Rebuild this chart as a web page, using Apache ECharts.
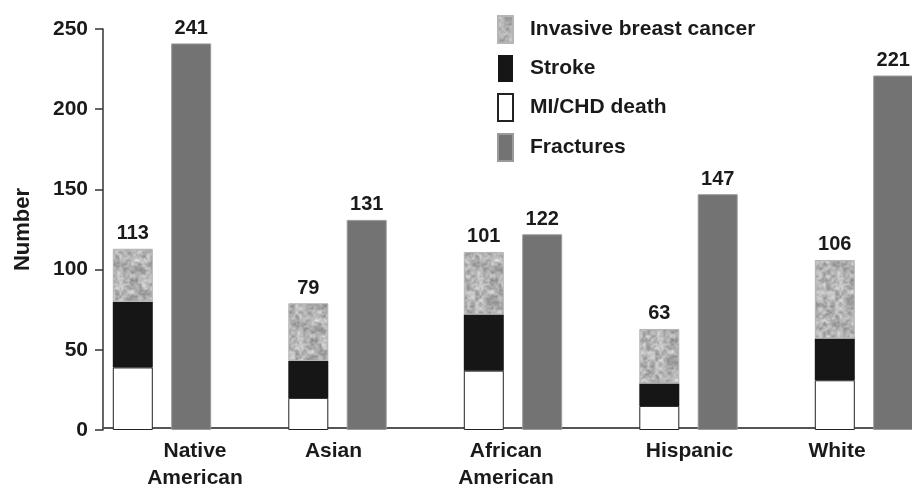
<!DOCTYPE html>
<html>
<head>
<meta charset="utf-8">
<script src="https://cdn.jsdelivr.net/npm/echarts@6/dist/echarts.min.js"></script>
<style>html,body{margin:0;padding:0;background:#fff}#c{width:912px;height:486px}</style>
</head>
<body>
<div id="c"></div>
<script>
// ---- data ----
var categories = ['Native\nAmerican', 'Asian', 'African\nAmerican', 'Hispanic', 'White'];
var miChd = [39, 20, 37, 15, 31];
var stroke = [41, 23, 35, 14, 26];
var breast = [33, 36, 39, 34, 49];
var totals = [113, 79, 101, 63, 106];
var fractures = [241, 131, 122, 147, 221];
var yTicks = [0, 50, 100, 150, 200, 250];

// ---- styling helpers ----
var FONT = '"Liberation Sans", Arial, Helvetica, sans-serif';
var TXT = '#1a1a1a';
var labelShift = [33, -4, -7, 1, -27];

function makeTexture() {
  var S = 60, c = document.createElement('canvas');
  c.width = c.height = S;
  var ctx = c.getContext('2d');
  var img = ctx.createImageData(S, S);
  function h(x, y) { var n = Math.sin(x * 127.1 + y * 311.7) * 43758.5453; return n - Math.floor(n); }
  function vn(x, y, cell) {
    var per = S / cell, gx = x / cell, gy = y / cell;
    var ix = Math.floor(gx), iy = Math.floor(gy), fx = gx - ix, fy = gy - iy;
    fx = fx * fx * (3 - 2 * fx); fy = fy * fy * (3 - 2 * fy);
    var a = h(ix % per, iy % per), b = h((ix + 1) % per, iy % per),
        cc = h(ix % per, (iy + 1) % per), d = h((ix + 1) % per, (iy + 1) % per);
    return a + (b - a) * fx + (cc - a) * fy + (a - b - cc + d) * fx * fy;
  }
  for (var y = 0; y < S; y++) for (var x = 0; x < S; x++) {
    var v = 0.6 * vn(x, y, 4) + 0.4 * vn(x, y, 2);
    var g = Math.round(228 - 100 * v);
    var i = (y * S + x) * 4;
    img.data[i] = img.data[i + 1] = img.data[i + 2] = g; img.data[i + 3] = 255;
  }
  ctx.putImageData(img, 0, 0);
  return c;
}
var texture = makeTexture();

var rich = {};
labelShift.forEach(function (s, i) {
  rich['s' + i] = {
    fontFamily: FONT, fontWeight: 'bold', fontSize: 21, color: TXT, lineHeight: 27,
    padding: s >= 0 ? [0, 0, 0, 2 * s] : [0, -2 * s, 0, 0]
  };
});

var chart = echarts.init(document.getElementById('c'), null, { renderer: 'canvas' });
chart.setOption({
  animation: false,
  backgroundColor: '#fff',
  grid: [
    { left: 74.25, width: 877.5, top: 29, bottom: 56, outerBoundsMode: 'none', containLabel: false },
    { left: 103, right: 0, top: 29, bottom: 56, outerBoundsMode: 'none', containLabel: false }
  ],
  legend: {
    orient: 'vertical', left: 492, top: 10, itemWidth: 15, itemHeight: 27, itemGap: 11, icon: 'rect',
    data: ['Invasive breast cancer', 'Stroke', 'MI/CHD death', 'Fractures'],
    textStyle: { fontFamily: FONT, fontWeight: 'bold', fontSize: 21, color: TXT, padding: [0, 0, 0, 12] }
  },
  xAxis: [
    {
      type: 'category', gridIndex: 0, data: categories,
      axisLine: { show: false }, axisTick: { show: false },
      axisLabel: {
        margin: 8, interval: 0,
        formatter: function (v, i) {
          return v.split('\n').map(function (l) { return '{s' + i + '|' + l + '}'; }).join('\n');
        },
        rich: rich
      }
    },
    {
      type: 'value', gridIndex: 1, min: 0, max: 1, offset: -2,
      axisLine: { show: true, lineStyle: { color: '#555', width: 2 } },
      axisTick: { show: false }, axisLabel: { show: false }, splitLine: { show: false }
    }
  ],
  yAxis: [
    { type: 'value', gridIndex: 0, min: 0, max: 250, show: false },
    {
      type: 'value', gridIndex: 1, min: 0, max: 250, interval: 50,
      name: 'Number', nameLocation: 'middle', nameGap: 69,
      nameTextStyle: { fontFamily: FONT, fontWeight: 'bold', fontSize: 22, color: TXT },
      axisLine: { show: true, lineStyle: { color: '#333', width: 1.5 } },
      axisTick: { show: true, length: 8, lineStyle: { color: '#333', width: 1.5 } },
      axisLabel: {
        margin: 15, fontFamily: FONT, fontWeight: 'bold', fontSize: 21, color: TXT,
        formatter: function (v) { return yTicks.indexOf(v) >= 0 ? String(v) : ''; }
      },
      splitLine: { show: false }
    }
  ],
  series: [
    {
      name: 'MI/CHD death', type: 'bar', stack: 'a', xAxisIndex: 0, yAxisIndex: 0,
      barWidth: 40, data: miChd,
      itemStyle: { color: '#fff', borderColor: '#222', borderWidth: 1 }
    },
    {
      name: 'Stroke', type: 'bar', stack: 'a', xAxisIndex: 0, yAxisIndex: 0,
      barWidth: 40, data: stroke,
      itemStyle: { color: '#161616' }
    },
    {
      name: 'Invasive breast cancer', type: 'bar', stack: 'a', xAxisIndex: 0, yAxisIndex: 0,
      barWidth: 40, data: breast,
      itemStyle: { color: { image: texture, repeat: 'repeat' }, borderColor: '#b5b5b5', borderWidth: 1 },
      label: {
        show: true, position: 'top', distance: 5,
        fontFamily: FONT, fontWeight: 'bold', fontSize: 20, color: TXT,
        formatter: function (p) { return String(totals[p.dataIndex]); }
      }
    },
    {
      name: 'Fractures', type: 'bar', xAxisIndex: 0, yAxisIndex: 0,
      barWidth: 40, barGap: '46%', data: fractures,
      itemStyle: { color: '#737373', borderColor: '#9a9a9a', borderWidth: 1 },
      label: {
        show: true, position: 'top', distance: 5,
        fontFamily: FONT, fontWeight: 'bold', fontSize: 20, color: TXT
      }
    }
  ]
});
</script>
</body>
</html>
